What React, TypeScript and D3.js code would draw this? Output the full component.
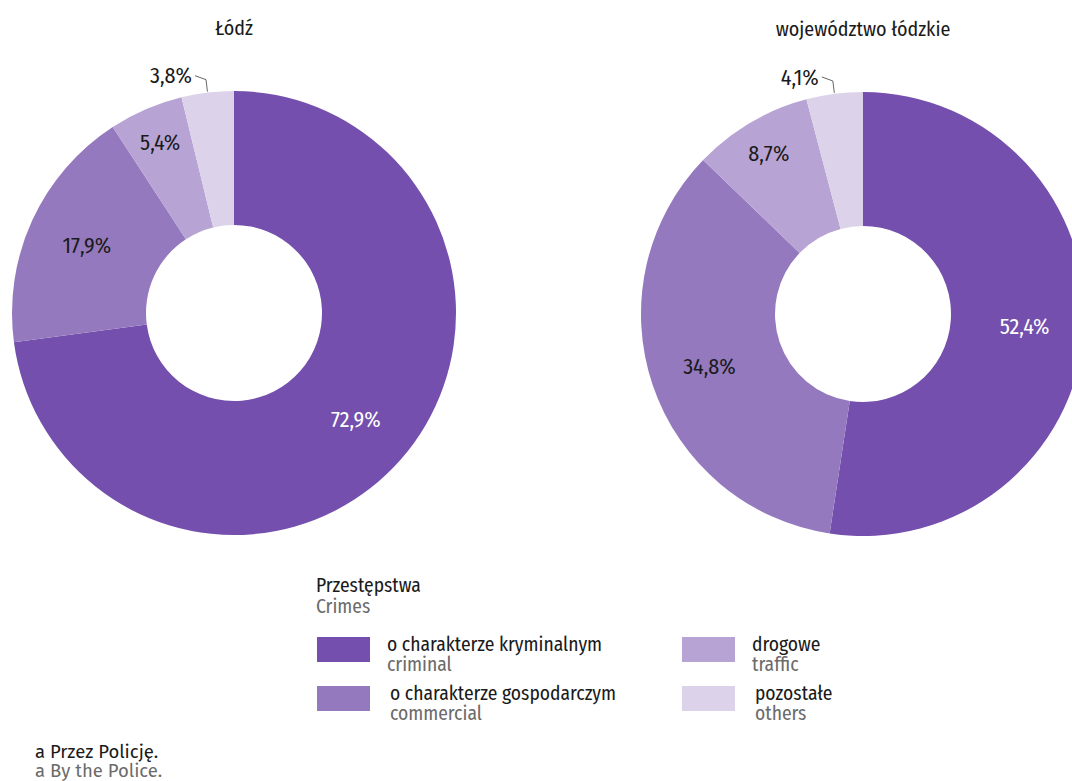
import React from "react";
import * as d3 from "d3";

const categoriesPl = [
  "o charakterze kryminalnym",
  "o charakterze gospodarczym",
  "drogowe",
  "pozostałe",
];
const categoriesEn = ["criminal", "commercial", "traffic", "others"];
const colors = ["#744fad", "#9479be", "#b8a4d4", "#dcd2ea"];

const lodzValues = [72.9, 17.9, 5.4, 3.8];
const voivValues = [52.4, 34.8, 8.7, 4.1];
const chartTitles = ["Łódź", "województwo łódzkie"];

const W = 1072;
const H = 781;
const outerR = 222;
const innerR = 88;
const font = "'Fira Sans Condensed', 'Roboto Condensed', Roboto, sans-serif";

const fmt = (v: number) => v.toFixed(1).replace(".", ",") + "%";

interface DonutProps {
  values: number[];
  cx: number;
  cy: number;
  title: string;
}

const Donut: React.FC<DonutProps> = ({ values, cx, cy, title }) => {
  const pie = d3
    .pie<number>()
    .value((d) => d)
    .sort(null);
  const arcs = pie(values);
  const arc = d3
    .arc<d3.PieArcDatum<number>>()
    .innerRadius(innerR)
    .outerRadius(outerR);
  const bigLabel = d3
    .arc<d3.PieArcDatum<number>>()
    .innerRadius(162)
    .outerRadius(162);
  const smallLabel = d3
    .arc<d3.PieArcDatum<number>>()
    .innerRadius(186)
    .outerRadius(186);
  const edge = d3
    .arc<d3.PieArcDatum<number>>()
    .innerRadius(outerR + 1)
    .outerRadius(outerR + 1);
  const bend = d3
    .arc<d3.PieArcDatum<number>>()
    .innerRadius(outerR + 13)
    .outerRadius(outerR + 13);

  return (
    <g transform={`translate(${cx},${cy})`}>
      <text
        x={0}
        y={-outerR - 63}
        dy="0.35em"
        textAnchor="middle"
        fontFamily={font}
        fontSize={20}
        fill="#1a1a1a"
      >
        {title}
      </text>
      {arcs.map((a, i) => (
        <path key={i} d={arc(a) || ""} fill={colors[i]} />
      ))}
      {arcs.map((a, i) => {
        const last = i === arcs.length - 1;
        if (last) {
          const p0 = edge.centroid(a);
          const p1 = bend.centroid(a);
          const p2 = [p1[0] - 11, p1[1] - 4];
          return (
            <g key={"l" + i}>
              <polyline
                points={[p0, p1, p2].map((p) => p.join(",")).join(" ")}
                fill="none"
                stroke="#666"
                strokeWidth={1}
              />
              <text
                x={p2[0] - 3}
                y={p2[1]}
                dy="0.35em"
                textAnchor="end"
                fontFamily={font}
                fontSize={22}
                fill="#1a1a1a"
              >
                {fmt(values[i])}
              </text>
            </g>
          );
        }
        const pos = values[i] > 10 ? bigLabel.centroid(a) : smallLabel.centroid(a);
        return (
          <text
            key={"l" + i}
            x={pos[0]}
            y={pos[1]}
            dy="0.35em"
            textAnchor="middle"
            fontFamily={font}
            fontSize={22}
            fill={i === 0 ? "#ffffff" : "#1a1a1a"}
          >
            {fmt(values[i])}
          </text>
        );
      })}
    </g>
  );
};

export default function App() {
  const legendX = [317, 682];
  const legendY = [637, 686];
  return (
    <svg
      width={W}
      height={H}
      style={{ position: "absolute", left: 0, top: 0, background: "#fff" }}
    >
      <Donut values={lodzValues} cx={234} cy={313} title={chartTitles[0]} />
      <Donut values={voivValues} cx={863} cy={314} title={chartTitles[1]} />

      <text x={316} y={592} fontFamily={font} fontSize={19.5} fill="#1a1a1a">
        Przestępstwa
      </text>
      <text x={316} y={613} fontFamily={font} fontSize={19.5} fill="#6b6b6b">
        Crimes
      </text>
      {categoriesPl.map((c, i) => {
        const col = Math.floor(i / 2);
        const row = i % 2;
        const x = legendX[col];
        const y = legendY[row];
        const tx = x + 70 + row * 3;
        return (
          <g key={c}>
            <rect x={x} y={y} width={53} height={25} fill={colors[i]} />
            <text x={tx} y={y + 14} fontFamily={font} fontSize={19.5} fill="#1a1a1a">
              {c}
            </text>
            <text x={tx} y={y + 34} fontFamily={font} fontSize={19.5} fill="#6b6b6b">
              {categoriesEn[i]}
            </text>
          </g>
        );
      })}

      <text x={35} y={758} fontFamily="'Fira Sans', 'Open Sans', sans-serif" fontSize={18.5} fill="#1a1a1a">
        a Przez Policję.
      </text>
      <text x={35} y={777} fontFamily="'Fira Sans', 'Open Sans', sans-serif" fontSize={18.5} fill="#6b6b6b">
        a By the Police.
      </text>
    </svg>
  );
}
